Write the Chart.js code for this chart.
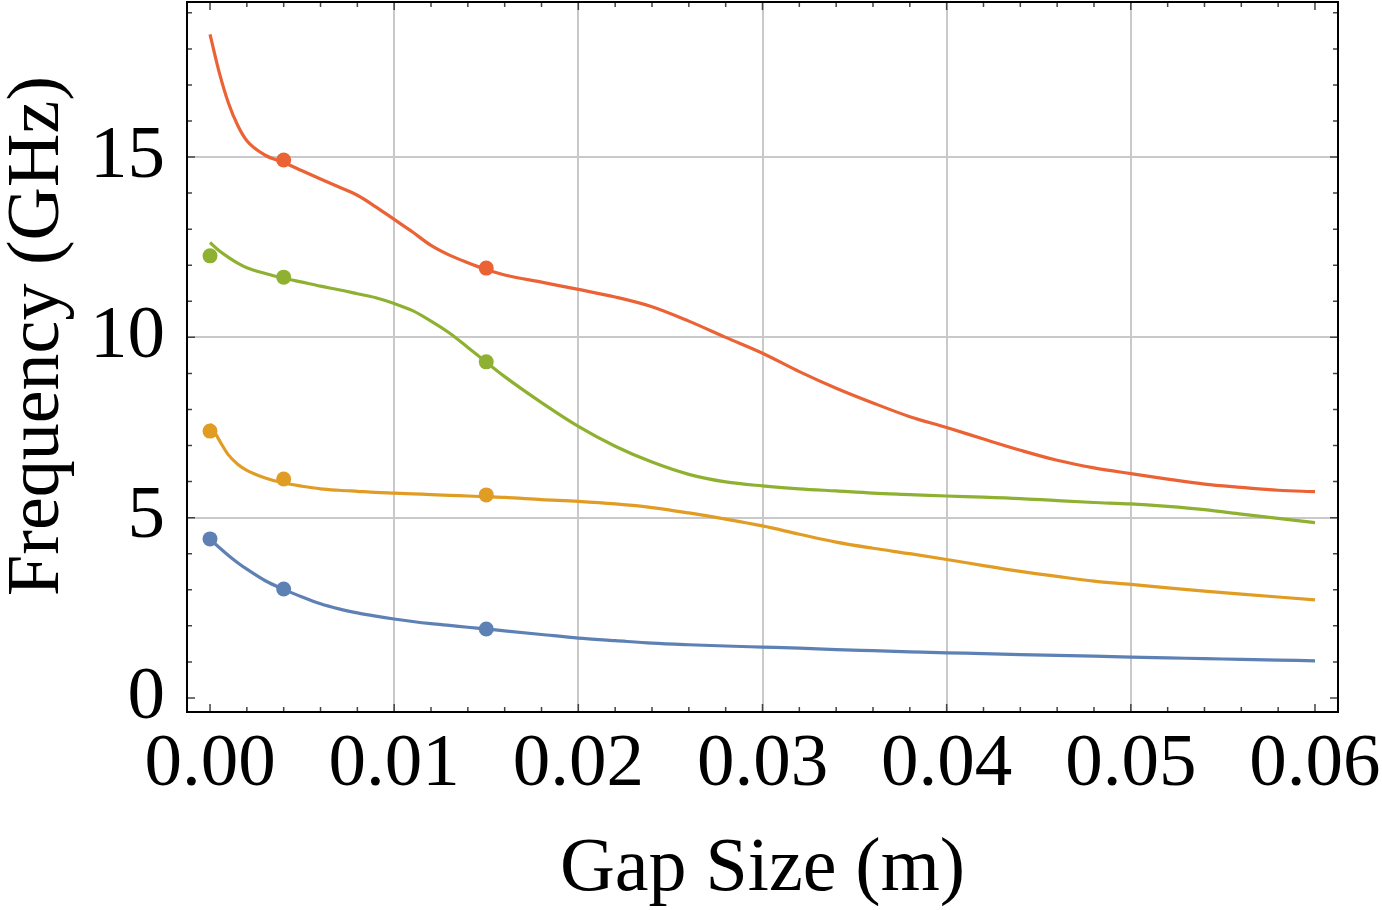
<!DOCTYPE html>
<html>
<head>
<meta charset="utf-8">
<script src="https://cdn.jsdelivr.net/npm/chart.js@4.4.1/dist/chart.umd.min.js"></script>
<style>
  html, body { margin: 0; padding: 0; background: #fff; }
  #wrap { width: 1382px; height: 910px; }
</style>
</head>
<body>
<div id="wrap"><canvas id="gapChart" width="1382" height="910"></canvas></div>
<script>
const gapSizes = [0, 0.0005, 0.001, 0.0015, 0.002, 0.003, 0.004, 0.005,
  0.006, 0.007, 0.008, 0.009, 0.010, 0.011, 0.012, 0.013, 0.014, 0.015, 0.016,
  0.018, 0.020, 0.022, 0.024, 0.026, 0.028, 0.030, 0.032, 0.034, 0.036, 0.038,
  0.040, 0.042, 0.044, 0.046, 0.048, 0.050, 0.052, 0.054, 0.056, 0.058, 0.060];

// frequency (GHz) of each mode along the fitted curves
const mode1Curve = [4.40, 4.17, 3.95, 3.75, 3.57, 3.25, 3.01, 2.80,
  2.61, 2.47, 2.36, 2.27, 2.19, 2.12, 2.06, 2.01, 1.96, 1.91, 1.86,
  1.76, 1.66, 1.59, 1.52, 1.475, 1.44, 1.41, 1.38, 1.34, 1.31, 1.28,
  1.25, 1.23, 1.20, 1.18, 1.16, 1.13, 1.11, 1.09, 1.07, 1.05, 1.03];
const mode2Curve = [7.60, 7.15, 6.74, 6.48, 6.31, 6.10, 5.96, 5.87,
  5.80, 5.76, 5.73, 5.70, 5.68, 5.66, 5.64, 5.62, 5.60, 5.58, 5.56,
  5.50, 5.45, 5.38, 5.28, 5.13, 4.96, 4.77, 4.54, 4.32, 4.15, 4.00,
  3.84, 3.67, 3.51, 3.37, 3.24, 3.15, 3.05, 2.96, 2.88, 2.80, 2.72];
const mode3Curve = [12.63, 12.40, 12.22, 12.06, 11.93, 11.77, 11.64, 11.53,
  11.42, 11.32, 11.21, 11.10, 10.94, 10.74, 10.45, 10.12, 9.72, 9.31, 8.91,
  8.19, 7.53, 6.98, 6.54, 6.20, 5.99, 5.88, 5.80, 5.74, 5.68, 5.64,
  5.60, 5.57, 5.53, 5.47, 5.42, 5.38, 5.31, 5.22, 5.10, 4.98, 4.86];
const mode4Curve = [18.40, 17.35, 16.50, 15.88, 15.45, 15.05, 14.85, 14.62,
  14.39, 14.17, 13.94, 13.62, 13.27, 12.92, 12.55, 12.28, 12.07, 11.88, 11.73,
  11.53, 11.33, 11.12, 10.85, 10.45, 10.00, 9.56, 9.05, 8.59, 8.18, 7.80,
  7.50, 7.18, 6.87, 6.59, 6.38, 6.22, 6.07, 5.93, 5.84, 5.76, 5.72];

// measured points
const sampleGaps = [0, 0.004, 0.015];
const mode1Samples = [4.41, 3.02, 1.91];
const mode2Samples = [7.40, 6.07, 5.63];
const mode3Samples = [12.26, 11.67, 9.32];
const mode4SampleGaps = [0.004, 0.015];
const mode4Samples = [14.92, 11.92];

const xTickValues = [0, 0.01, 0.02, 0.03, 0.04, 0.05, 0.06];
const xTickLabels = ['0.00', '0.01', '0.02', '0.03', '0.04', '0.05', '0.06'];
const yTickValues = [0, 5, 10, 15];
const yTickLabels = ['0', '5', '10', '15'];

const colors = ['#5E81B5', '#E19C24', '#8FB131', '#EB6235'];
const serif = "'Liberation Serif', 'Times New Roman', serif";

function toPoints(xs, ys) {
  return xs.map((x, i) => ({ x: x, y: ys[i] }));
}

function curveSet(ys, color) {
  return {
    data: toPoints(gapSizes, ys),
    showLine: true,
    borderColor: color,
    borderWidth: 3.2,
    pointRadius: 0,
    cubicInterpolationMode: 'monotone',
    order: 1
  };
}

function dotSet(xs, ys, color) {
  return {
    data: toPoints(xs, ys),
    showLine: false,
    pointRadius: 7.5,
    pointBackgroundColor: color,
    pointBorderWidth: 0,
    order: 0
  };
}

// inward ticks on all four sides plus the black frame
const frameTicks = {
  id: 'frameTicks',
  afterDatasetsDraw(chart) {
    const { ctx, chartArea: a, scales: { x, y } } = chart;
    ctx.save();
    ctx.strokeStyle = '#444';
    ctx.lineWidth = 1.5;
    ctx.beginPath();
    for (let i = 0; i <= 30; i++) {
      const px = x.getPixelForValue(i * 0.002);
      const len = i % 5 === 0 ? 8 : 5;
      ctx.moveTo(px, a.bottom); ctx.lineTo(px, a.bottom - len);
      ctx.moveTo(px, a.top); ctx.lineTo(px, a.top + len);
    }
    for (let j = 0; j <= 19; j++) {
      const py = y.getPixelForValue(j);
      const len = j % 5 === 0 ? 8 : 5;
      ctx.moveTo(a.left, py); ctx.lineTo(a.left + len, py);
      ctx.moveTo(a.right, py); ctx.lineTo(a.right - len, py);
    }
    ctx.stroke();
    ctx.strokeStyle = '#000';
    ctx.lineWidth = 2;
    ctx.strokeRect(a.left, a.top, a.right - a.left, a.bottom - a.top);
    ctx.restore();
  },
  afterDraw(chart) {
    const ctx = chart.ctx;
    ctx.save();
    ctx.translate(58, 336);
    ctx.rotate(-Math.PI / 2);
    ctx.fillStyle = '#000';
    ctx.font = '74px ' + serif;
    ctx.textAlign = 'center';
    ctx.textBaseline = 'alphabetic';
    ctx.fillText('Frequency (GHz)', 0, 0);
    ctx.restore();
  }
};

const ctx = document.getElementById('gapChart').getContext('2d');
new Chart(ctx, {
  type: 'scatter',
  data: {
    datasets: [
      curveSet(mode1Curve, colors[0]),
      curveSet(mode2Curve, colors[1]),
      curveSet(mode3Curve, colors[2]),
      curveSet(mode4Curve, colors[3]),
      dotSet(sampleGaps, mode1Samples, colors[0]),
      dotSet(sampleGaps, mode2Samples, colors[1]),
      dotSet(sampleGaps, mode3Samples, colors[2]),
      dotSet(mode4SampleGaps, mode4Samples, colors[3])
    ]
  },
  options: {
    responsive: false,
    animation: false,
    layout: { autoPadding: false, padding: { top: 2, right: 44, left: 0, bottom: 0 } },
    plugins: {
      legend: { display: false },
      tooltip: { enabled: false }
    },
    scales: {
      x: {
        type: 'linear',
        min: -0.00125,
        max: 0.06125,
        afterBuildTicks: scale => { scale.ticks = xTickValues.map(v => ({ value: v })); },
        afterFit: scale => {
          scale.height = 198;
          scale.paddingLeft = 0;
          scale.paddingRight = 0;
        },
        ticks: {
          callback: (value, index) => xTickLabels[index],
          color: '#000',
          font: { family: serif, size: 75 },
          padding: 8,
          maxRotation: 0,
          autoSkip: false
        },
        grid: {
          color: c => (c.tick && (c.tick.value === 0 || c.tick.value === 0.06)) ? 'rgba(0,0,0,0)' : '#c9c9c9',
          lineWidth: 2,
          drawTicks: false
        },
        border: { display: false },
        title: {
          display: true,
          text: 'Gap Size (m)',
          color: '#000',
          font: { family: serif, size: 76, lineHeight: 1.0 },
          padding: { top: 0, bottom: 2 }
        }
      },
      y: {
        type: 'linear',
        min: -0.39,
        max: 19.3,
        afterBuildTicks: scale => { scale.ticks = yTickValues.map(v => ({ value: v })); },
        afterFit: scale => {
          scale.width = 187;
          scale.paddingTop = 0;
          scale.paddingBottom = 0;
        },
        ticks: {
          callback: (value, index) => yTickLabels[index],
          color: '#000',
          font: { family: serif, size: 75 },
          padding: 22
        },
        grid: {
          color: c => (c.tick && c.tick.value === 0) ? 'rgba(0,0,0,0)' : '#c9c9c9',
          lineWidth: 2,
          drawTicks: false
        },
        border: { display: false }
      }
    }
  },
  plugins: [frameTicks]
});
</script>
</body>
</html>
